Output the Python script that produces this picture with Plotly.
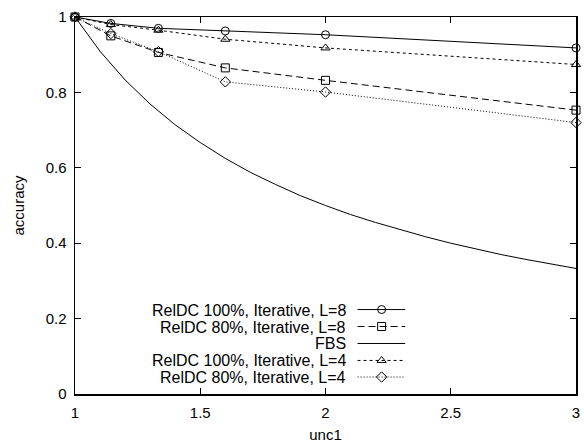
import plotly.graph_objects as go

# ---- data ----
x_pts = [1, 1.143, 1.333, 1.6, 2, 3]
reldc100_L8 = [1, 0.983, 0.970, 0.963, 0.953, 0.918]
reldc80_L8 = [1, 0.950, 0.906, 0.865, 0.832, 0.753]
reldc100_L4 = [1, 0.980, 0.965, 0.941, 0.918, 0.874]
reldc80_L4 = [1, 0.956, 0.908, 0.828, 0.801, 0.720]

fbs_x = [1.0, 1.1, 1.2, 1.3, 1.4, 1.5, 1.6, 1.7, 1.8, 1.9, 2.0,
         2.1, 2.2, 2.3, 2.4, 2.5, 2.6, 2.7, 2.8, 2.9, 3.0]
fbs_y = [1.000, 0.909, 0.833, 0.769, 0.714, 0.667, 0.625, 0.588, 0.556, 0.526, 0.500,
         0.476, 0.455, 0.435, 0.417, 0.400, 0.385, 0.370, 0.357, 0.345, 0.333]

names = ["RelDC 100%, Iterative, L=8", "RelDC 80%, Iterative, L=8", "FBS",
         "RelDC 100%, Iterative, L=4", "RelDC 80%, Iterative, L=4"]

x_ticks = [1, 1.5, 2, 2.5, 3]
y_ticks = [0, 0.2, 0.4, 0.6, 0.8, 1]

FONT = "Liberation Sans, Arial, sans-serif"
BLACK = "#000000"

styles = [
    dict(dash="solid", symbol="circle-open"),
    dict(dash="7px,4px", symbol="square-open"),
    dict(dash="solid", symbol=None),
    dict(dash="3px,3px", symbol="triangle-up-open"),
    dict(dash="1px,2px", symbol="diamond-open"),
]

fig = go.Figure()

series = [(x_pts, reldc100_L8), (x_pts, reldc80_L8), (fbs_x, fbs_y),
          (x_pts, reldc100_L4), (x_pts, reldc80_L4)]

for (xs, ys), st, nm in zip(series, styles, names):
    if st["symbol"]:
        fig.add_trace(go.Scatter(
            x=xs, y=ys, mode="lines+markers", name=nm, showlegend=False,
            cliponaxis=False,
            line=dict(color=BLACK, width=1, dash=st["dash"]),
            marker=dict(symbol=st["symbol"], size=8, color=BLACK,
                        line=dict(color=BLACK, width=1)),
        ))
    else:
        fig.add_trace(go.Scatter(
            x=xs, y=ys, mode="lines", name=nm, showlegend=False,
            line=dict(color=BLACK, width=1, dash=st["dash"]),
        ))

# ---- custom legend (text left of sample, like gnuplot) ----
row_y = [0.224, 0.179, 0.134, 0.089, 0.045]
text_x = 0.545
sample_x0, sample_x1, sample_xm = 0.564, 0.659, 0.612
annotations = []
for nm, st, ry in zip(names, styles, row_y):
    fig.add_trace(go.Scatter(
        x=[sample_x0, sample_x1], y=[ry, ry], mode="lines", showlegend=False,
        xaxis="x2", yaxis="y2", hoverinfo="skip",
        line=dict(color=BLACK, width=1, dash=st["dash"]),
    ))
    if st["symbol"]:
        fig.add_trace(go.Scatter(
            x=[sample_xm], y=[ry], mode="markers", showlegend=False,
            xaxis="x2", yaxis="y2", hoverinfo="skip",
            marker=dict(symbol=st["symbol"], size=8, color=BLACK,
                        line=dict(color=BLACK, width=1)),
        ))
    annotations.append(dict(
        x=text_x, y=ry, xref="paper", yref="paper", text=nm, showarrow=False,
        xanchor="right", yanchor="middle", height=16, valign="middle",
        font=dict(family=FONT, size=16, color=BLACK),
    ))

axis_common = dict(
    showline=True, linecolor=BLACK, linewidth=1.5, mirror="ticks",
    ticks="inside", ticklen=6, tickwidth=1, tickcolor=BLACK,
    showgrid=False, zeroline=False, ticklabelstandoff=4,
    tickfont=dict(family=FONT, size=15, color=BLACK),
)

fig.update_layout(
    width=584, height=445,
    margin=dict(l=75, r=4, t=17, b=47),
    paper_bgcolor="white", plot_bgcolor="white",
    font=dict(family=FONT, size=15, color=BLACK),
    xaxis=dict(range=[1, 3], tickvals=x_ticks, ticktext=[str(v) for v in x_ticks],
               title=dict(text="unc1", font=dict(family=FONT, size=15), standoff=10),
               **axis_common),
    yaxis=dict(range=[0, 1], tickvals=y_ticks, ticktext=[("%g" % v) for v in y_ticks],
               title=dict(text="accuracy", font=dict(family=FONT, size=15), standoff=17),
               **axis_common),
    xaxis2=dict(range=[0, 1], overlaying="x", visible=False, fixedrange=True),
    yaxis2=dict(range=[0, 1], overlaying="y", visible=False, fixedrange=True),
    annotations=annotations,
)

# remove the default page margin so the 584x445 figure fills the window exactly
fig.write_html(
    "out.html",
    config={"displayModeBar": False, "staticPlot": True},
    post_script="document.body.style.margin='0';"
                "document.documentElement.style.overflow='hidden';"
                "document.body.style.overflow='hidden';",
)
